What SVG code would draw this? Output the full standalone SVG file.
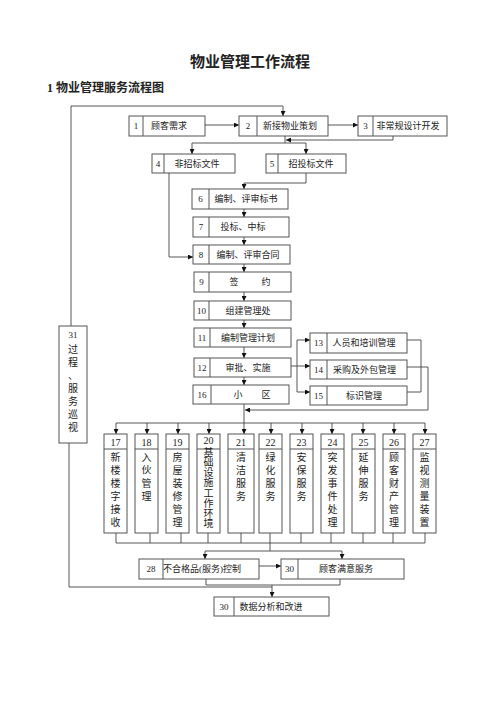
<svg xmlns="http://www.w3.org/2000/svg" width="500" height="707" viewBox="0 0 500 707">
<style>
.bx{fill:#fff;stroke:#555;stroke-width:1}
.dv{stroke:#555;stroke-width:1}
.ln{fill:none;stroke:#444;stroke-width:0.9}
text{font-family:"Liberation Serif","Noto Sans CJK SC",serif;font-size:9px;fill:#222;text-anchor:middle}
.ttl{font-size:15px;font-weight:bold}
.sub{font-size:12px;font-weight:bold;text-anchor:start}
.cv{font-size:10px}
</style>
<defs>
<marker id="a" viewBox="0 0 6 6" refX="6" refY="3" markerWidth="5" markerHeight="5" markerUnits="userSpaceOnUse" orient="auto"><path d="M0,0 L6,3 L0,6z" fill="#111"/></marker>
</defs>
<rect width="500" height="707" fill="#fff"/>
<text class="ttl" x="250" y="67">物业管理工作流程</text>
<text class="sub" x="47" y="92">1 物业管理服务流程图</text>

<g id="connectors">
<path class="ln" d="M71,326 V106 H283 V116" marker-end="url(#a)"/>
<path class="ln" d="M205,125 H239" marker-end="url(#a)"/>
<path class="ln" d="M328,125 H358" marker-end="url(#a)"/>
<path class="ln" d="M393,136 V140 H286" marker-end="url(#a)"/>
<path class="ln" d="M285,136 V143"/>
<path class="ln" d="M192,143 H306"/>
<path class="ln" d="M192,143 V154" marker-end="url(#a)"/>
<path class="ln" d="M306,143 V154" marker-end="url(#a)"/>
<path class="ln" d="M169,173 V257 H193" marker-end="url(#a)"/>
<path class="ln" d="M306,173 V183 H244 V189" marker-end="url(#a)"/>
<path class="ln" d="M244,209 V217" marker-end="url(#a)"/>
<path class="ln" d="M244,237 V245" marker-end="url(#a)"/>
<path class="ln" d="M244,264 V272" marker-end="url(#a)"/>
<path class="ln" d="M244,292 V301" marker-end="url(#a)"/>
<path class="ln" d="M244,320 V328" marker-end="url(#a)"/>
<path class="ln" d="M244,347 V358" marker-end="url(#a)"/>
<path class="ln" d="M244,377 V385" marker-end="url(#a)"/>
<path class="ln" d="M291,366 H297"/>
<path class="ln" d="M297,340 V392"/>
<path class="ln" d="M297,340 H310" marker-end="url(#a)"/>
<path class="ln" d="M297,366 H310" marker-end="url(#a)"/>
<path class="ln" d="M297,392 H310" marker-end="url(#a)"/>
<path class="ln" d="M407,340 H421 V392 H407"/>
<path class="ln" d="M407,367 H428 V410 H245" marker-end="url(#a)"/>
<path class="ln" d="M244,404 V423"/>
<path class="ln" d="M116,423 H425"/>
<path class="ln" d="M116,423 V434" marker-end="url(#a)"/>
<path class="ln" d="M147,423 V434" marker-end="url(#a)"/>
<path class="ln" d="M178,423 V434" marker-end="url(#a)"/>
<path class="ln" d="M209,423 V434" marker-end="url(#a)"/>
<path class="ln" d="M244,423 V434" marker-end="url(#a)"/>
<path class="ln" d="M271,423 V434" marker-end="url(#a)"/>
<path class="ln" d="M302,423 V434" marker-end="url(#a)"/>
<path class="ln" d="M332,423 V434" marker-end="url(#a)"/>
<path class="ln" d="M363,423 V434" marker-end="url(#a)"/>
<path class="ln" d="M394,423 V434" marker-end="url(#a)"/>
<path class="ln" d="M425,423 V434" marker-end="url(#a)"/>
<path class="ln" d="M116,533 V543 M150,533 V543 M181,533 V543 M208,533 V543 M241,533 V543 M270,533 V543 M301,533 V543 M331,533 V543 M363,533 V543 M393,533 V543 M425,533 V543"/>
<path class="ln" d="M116,543 H425"/>
<path class="ln" d="M270,543 V551"/>
<path class="ln" d="M205,551 H342"/>
<path class="ln" d="M205,551 V559" marker-end="url(#a)"/>
<path class="ln" d="M342,551 V559" marker-end="url(#a)"/>
<path class="ln" d="M259,566 H281" marker-end="url(#a)"/>
<path class="ln" d="M206,579 V585 H340 V579"/>
<path class="ln" d="M272,585 V597" marker-end="url(#a)"/>
<path class="ln" d="M69,443 V587 H272"/>
</g>

<g id="n1"><rect class="bx" x="129" y="116" width="76" height="20"/><line class="dv" x1="143" y1="116" x2="143" y2="136"/><text x="136" y="129">1</text><text x="169" y="129">顾客需求</text></g>
<g id="n2"><rect class="bx" x="239" y="116" width="89" height="20"/><line class="dv" x1="257" y1="116" x2="257" y2="136"/><text x="248" y="129">2</text><text x="290" y="129">新接物业策划</text></g>
<g id="n3"><rect class="bx" x="358" y="116" width="89" height="20"/><line class="dv" x1="373" y1="116" x2="373" y2="136"/><text x="365.5" y="129">3</text><text x="408" y="129">非常规设计开发</text></g>
<g id="n4"><rect class="bx" x="152" y="154" width="83" height="19"/><line class="dv" x1="164" y1="154" x2="164" y2="173"/><text x="158" y="167">4</text><text x="197" y="167">非招标文件</text></g>
<g id="n5"><rect class="bx" x="266" y="154" width="80" height="19"/><line class="dv" x1="278" y1="154" x2="278" y2="173"/><text x="272" y="167">5</text><text x="311" y="167">招投标文件</text></g>
<g id="n6"><rect class="bx" x="192" y="189" width="96" height="20"/><line class="dv" x1="209" y1="189" x2="209" y2="209"/><text x="200.5" y="202">6</text><text x="246" y="202">编制、评审标书</text></g>
<g id="n7"><rect class="bx" x="193" y="217" width="96" height="20"/><line class="dv" x1="209" y1="217" x2="209" y2="237"/><text x="201" y="230">7</text><text x="243" y="230">投标、中标</text></g>
<g id="n8"><rect class="bx" x="193" y="245" width="97" height="19"/><line class="dv" x1="209" y1="245" x2="209" y2="264"/><text x="201" y="258">8</text><text x="248" y="258">编制、评审合同</text></g>
<g id="n9"><rect class="bx" x="194" y="272" width="97" height="20"/><line class="dv" x1="209" y1="272" x2="209" y2="292"/><text x="201.5" y="285">9</text><text x="234" y="285">签</text><text x="266" y="285">约</text></g>
<g id="n10"><rect class="bx" x="194" y="301" width="97" height="19"/><line class="dv" x1="209" y1="301" x2="209" y2="320"/><text x="201.5" y="314">10</text><text x="248" y="314">组建管理处</text></g>
<g id="n11"><rect class="bx" x="194" y="328" width="97" height="19"/><line class="dv" x1="210" y1="328" x2="210" y2="347"/><text x="202" y="341">11</text><text x="248" y="341">编制管理计划</text></g>
<g id="n12"><rect class="bx" x="194" y="358" width="97" height="19"/><line class="dv" x1="210" y1="358" x2="210" y2="377"/><text x="202" y="371">12</text><text x="248" y="371">审批、实施</text></g>
<g id="n16"><rect class="bx" x="193" y="385" width="96" height="19"/><line class="dv" x1="211" y1="385" x2="211" y2="404"/><text x="202" y="398">16</text><text x="238" y="398">小</text><text x="266" y="398">区</text></g>
<g id="n13"><rect class="bx" x="310" y="333" width="97" height="20"/><line class="dv" x1="327" y1="333" x2="327" y2="353"/><text x="318.5" y="346">13</text><text x="364" y="346">人员和培训管理</text></g>
<g id="n14"><rect class="bx" x="310" y="360" width="97" height="19"/><line class="dv" x1="327" y1="360" x2="327" y2="379"/><text x="318.5" y="373">14</text><text x="364.5" y="373">采购及外包管理</text></g>
<g id="n15"><rect class="bx" x="310" y="386" width="97" height="19"/><line class="dv" x1="327" y1="386" x2="327" y2="405"/><text x="318.5" y="399">15</text><text x="364" y="399">标识管理</text></g>

<g id="n31"><rect class="bx" x="59" y="326" width="28" height="117"/><text x="73" y="338">31</text><text class="cv" x="73" y="353">过</text><text class="cv" x="73" y="366">程</text><text class="cv" x="73" y="379">、</text><text class="cv" x="73" y="392">服</text><text class="cv" x="73" y="405">务</text><text class="cv" x="73" y="418">巡</text><text class="cv" x="73" y="431">视</text></g>

<g id="n17"><rect class="bx" x="104" y="434" width="23" height="99"/><line class="dv" x1="104" y1="449" x2="127" y2="449"/><text class="cv" x="115.5" y="446">17</text><text class="cv" x="115.5" y="461">新</text><text class="cv" x="115.5" y="474">楼</text><text class="cv" x="115.5" y="487">楼</text><text class="cv" x="115.5" y="500">字</text><text class="cv" x="115.5" y="513">接</text><text class="cv" x="115.5" y="526">收</text></g>
<g id="n18"><rect class="bx" x="135" y="434" width="23" height="99"/><line class="dv" x1="135" y1="449" x2="158" y2="449"/><text class="cv" x="146.5" y="446">18</text><text class="cv" x="146.5" y="461">入</text><text class="cv" x="146.5" y="474">伙</text><text class="cv" x="146.5" y="487">管</text><text class="cv" x="146.5" y="500">理</text></g>
<g id="n19"><rect class="bx" x="166" y="434" width="23" height="99"/><line class="dv" x1="166" y1="449" x2="189" y2="449"/><text class="cv" x="177.5" y="446">19</text><text class="cv" x="177.5" y="461">房</text><text class="cv" x="177.5" y="474">屋</text><text class="cv" x="177.5" y="487">装</text><text class="cv" x="177.5" y="500">修</text><text class="cv" x="177.5" y="513">管</text><text class="cv" x="177.5" y="526">理</text></g>
<g id="n20"><rect class="bx" x="197" y="434" width="23" height="99"/><line class="dv" x1="197" y1="449" x2="220" y2="449"/><text class="cv" x="208.5" y="444">20</text><text class="cv" x="208.5" y="456">基</text><text class="cv" x="208.5" y="466">础</text><text class="cv" x="208.5" y="476">设</text><text class="cv" x="208.5" y="486">施</text><text class="cv" x="208.5" y="497">工</text><text class="cv" x="208.5" y="507">作</text><text class="cv" x="208.5" y="517">环</text><text class="cv" x="208.5" y="527">境</text></g>
<g id="n21"><rect class="bx" x="228" y="434" width="26" height="99"/><line class="dv" x1="228" y1="449" x2="254" y2="449"/><text class="cv" x="241" y="446">21</text><text class="cv" x="241" y="461">清</text><text class="cv" x="241" y="474">洁</text><text class="cv" x="241" y="487">服</text><text class="cv" x="241" y="500">务</text></g>
<g id="n22"><rect class="bx" x="259" y="434" width="23" height="99"/><line class="dv" x1="259" y1="449" x2="282" y2="449"/><text class="cv" x="270.5" y="446">22</text><text class="cv" x="270.5" y="461">绿</text><text class="cv" x="270.5" y="474">化</text><text class="cv" x="270.5" y="487">服</text><text class="cv" x="270.5" y="500">务</text></g>
<g id="n23"><rect class="bx" x="290" y="434" width="23" height="99"/><line class="dv" x1="290" y1="449" x2="313" y2="449"/><text class="cv" x="301.5" y="446">23</text><text class="cv" x="301.5" y="461">安</text><text class="cv" x="301.5" y="474">保</text><text class="cv" x="301.5" y="487">服</text><text class="cv" x="301.5" y="500">务</text></g>
<g id="n24"><rect class="bx" x="321" y="434" width="23" height="99"/><line class="dv" x1="321" y1="449" x2="344" y2="449"/><text class="cv" x="332.5" y="446">24</text><text class="cv" x="332.5" y="461">突</text><text class="cv" x="332.5" y="474">发</text><text class="cv" x="332.5" y="487">事</text><text class="cv" x="332.5" y="500">件</text><text class="cv" x="332.5" y="513">处</text><text class="cv" x="332.5" y="526">理</text></g>
<g id="n25"><rect class="bx" x="352" y="434" width="23" height="99"/><line class="dv" x1="352" y1="449" x2="375" y2="449"/><text class="cv" x="363.5" y="446">25</text><text class="cv" x="363.5" y="461">延</text><text class="cv" x="363.5" y="474">伸</text><text class="cv" x="363.5" y="487">服</text><text class="cv" x="363.5" y="500">务</text></g>
<g id="n26"><rect class="bx" x="383" y="434" width="22" height="99"/><line class="dv" x1="383" y1="449" x2="405" y2="449"/><text class="cv" x="394" y="446">26</text><text class="cv" x="394" y="461">顾</text><text class="cv" x="394" y="474">客</text><text class="cv" x="394" y="487">财</text><text class="cv" x="394" y="500">产</text><text class="cv" x="394" y="513">管</text><text class="cv" x="394" y="526">理</text></g>
<g id="n27"><rect class="bx" x="413" y="434" width="23" height="99"/><line class="dv" x1="413" y1="449" x2="436" y2="449"/><text class="cv" x="424.5" y="446">27</text><text class="cv" x="424.5" y="461">监</text><text class="cv" x="424.5" y="474">视</text><text class="cv" x="424.5" y="487">测</text><text class="cv" x="424.5" y="500">量</text><text class="cv" x="424.5" y="513">装</text><text class="cv" x="424.5" y="526">置</text></g>

<g id="n28"><rect class="bx" x="139" y="559" width="120" height="20"/><line class="dv" x1="163" y1="559" x2="163" y2="579"/><text x="151" y="572">28</text><text x="202" y="572">不合格品(服务)控制</text></g>
<g id="n30a"><rect class="bx" x="281" y="559" width="123" height="20"/><line class="dv" x1="298" y1="559" x2="298" y2="579"/><text x="289.5" y="572">30</text><text x="346" y="572">顾客满意服务</text></g>
<g id="n30b"><rect class="bx" x="214" y="597" width="115" height="19"/><line class="dv" x1="234" y1="597" x2="234" y2="616"/><text x="224" y="610">30</text><text x="271" y="610">数据分析和改进</text></g>
</svg>
